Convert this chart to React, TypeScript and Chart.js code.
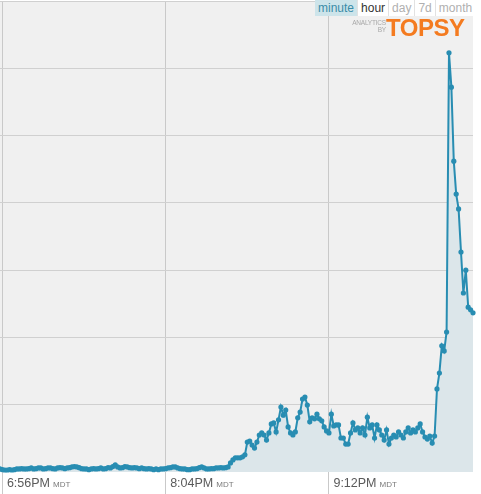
import React, { useEffect, useRef } from "react";
import { Chart, registerables } from "chart.js";

Chart.register(...registerables);

// minutes after 6:55PM MDT, one value per minute (tweets per minute)
const tickMinutes = [1, 69, 137];
const tickLabels = ["6:56PM", "8:04PM", "9:12PM"];
const timeZone = "MDT";

const baselineValues = [
  0.9, 0.7, 0.6, 0.6, 0.7, 0.6, 0.7, 0.9, 0.9, 1.0, 0.9,
  0.9, 1.0, 1.2, 0.9, 1.0, 1.2, 1.2, 0.9, 1.0, 1.2,
  1.2, 1.0, 0.9, 1.2, 1.3, 1.2, 1.0, 1.2, 1.3, 1.5,
  1.6, 1.5, 1.3, 1.0, 0.9, 0.9, 0.7, 0.9, 1.0, 0.9,
  1.0, 1.2, 0.9, 1.0, 1.3, 1.2, 1.6, 2.1, 1.5, 1.2,
  1.3, 1.6, 1.5, 1.3, 1.2, 1.3, 1.2, 1.0, 1.2, 1.0,
  0.9, 1.0, 0.9, 0.7, 0.9, 0.7, 0.9, 0.9, 1.0, 1.2,
  1.3, 1.5, 1.5, 1.2, 1.0, 0.9, 0.9, 0.7, 0.7, 0.9,
  0.9, 1.0, 1.3, 1.5, 1.2, 0.9, 0.9, 1.0, 1.0, 1.2,
  1.2, 1.3, 1.2, 1.3, 1.5,
];

const buildupValues = [
  2.7, 3.6, 4.2, 4.2, 4.2, 4.5, 5.1, 8.9, 9.2, 8.0,
  7.1, 8.9, 11.0, 11.6, 11.0, 9.5, 11.6, 14.3, 14.6, 11.9,
  15.5, 19.3, 16.9, 18.4, 13.4, 11.6, 11.0, 11.9, 16.1, 17.8,
  21.7, 22.3, 19.9, 14.9, 16.1, 15.8, 17.2, 15.8, 15.2, 13.4,
  12.2, 11.6, 17.2, 13.7, 14.0, 14.0, 10.1, 10.1, 8.3, 8.3,
  11.6, 14.6, 12.5, 13.1, 11.6, 13.1, 11.0, 16.3, 13.1, 14.0,
  10.1, 14.0, 12.5, 11.0, 9.5, 12.5, 8.3, 10.1, 11.0, 10.4,
  11.9, 11.0, 10.1, 11.9, 13.1, 11.6, 12.5, 11.9, 13.1, 14.3,
  11.9, 10.4, 9.8, 10.7, 8.6, 10.7,
];

const spikeValues = [
  24.7, 29.4, 37.5, 36.0, 41.6, 124.6, 114.4, 92.4, 82.6, 78.2,
  65.4, 53.2, 60.0, 49.0, 48.2, 47.3,
];

const rangeButtons = ["minute", "hour", "day", "7d", "month"];
const activeButton = "minute";

const LINE = "rgb(40,141,178)";
const FONT = '"Helvetica Neue", Helvetica, Arial, "Liberation Sans", sans-serif';

export default function App() {
  const canvasRef = useRef<HTMLCanvasElement | null>(null);

  useEffect(() => {
    if (!canvasRef.current) return;
    const allValues = [...baselineValues, ...buildupValues, ...spikeValues];
    const points = allValues.map((v, i) => ({ x: i, y: v }));

    const bgPlugin = {
      id: "plotBg",
      beforeDraw(chart: any) {
        const { ctx, chartArea } = chart;
        ctx.save();
        ctx.fillStyle = "#f0f0f0";
        ctx.fillRect(chartArea.left, chartArea.top, chartArea.right - chartArea.left, chartArea.bottom - chartArea.top);
        ctx.restore();
      },
    };

    const labelPlugin = {
      id: "timeLabels",
      afterDraw(chart: any) {
        const { ctx, scales, chartArea } = chart;
        const xs = scales.x;
        ctx.save();
        ctx.textBaseline = "alphabetic";
        tickMinutes.forEach((m, i) => {
          const px = xs.getPixelForValue(m) + 4.5;
          const y = chartArea.bottom + 15;
          ctx.font = `12.5px ${FONT}`;
          ctx.fillStyle = "#5a5a5a";
          ctx.fillText(tickLabels[i], px, y);
          const w = ctx.measureText(tickLabels[i]).width;
          ctx.font = `8px ${FONT}`;
          ctx.fillStyle = "#7a7a7a";
          ctx.fillText(timeZone, px + w + 3, y);
        });
        ctx.restore();
      },
    };

    const chart = new Chart(canvasRef.current, {
      type: "line",
      data: {
        datasets: [
          {
            data: points,
            borderColor: LINE,
            borderWidth: 2,
            backgroundColor: "#dce6ea",
            fill: "origin",
            pointRadius: 2.6,
            pointBorderWidth: 0,
            pointBackgroundColor: LINE,
            tension: 0,
            clip: 5,
          },
        ],
      },
      options: {
        animation: false,
        responsive: false,
        events: [],
        layout: { autoPadding: false, padding: { top: 1, right: 8, left: 0, bottom: 0 } },
        plugins: { legend: { display: false }, tooltip: { enabled: false } },
        scales: {
          x: {
            type: "linear",
            min: 0,
            max: 197,
            afterBuildTicks: (scale: any) => {
              scale.ticks = tickMinutes.map((v) => ({ value: v }));
            },
            afterFit: (scale: any) => {
              scale.height = 22;
            },
            ticks: { display: false },
            grid: { color: "#c9c9c9", drawTicks: true, tickLength: 22, lineWidth: 1 },
            border: { display: false },
          },
          y: {
            min: 0,
            max: 140,
            afterFit: (scale: any) => {
              scale.width = 0;
            },
            ticks: { display: false, stepSize: 20 },
            grid: {
              drawTicks: false,
              color: (c: any) => (c.tick && c.tick.value === 0 ? "rgba(0,0,0,0)" : "#d0d0d0"),
            },
            border: { display: false },
          },
        },
      },
      plugins: [bgPlugin, labelPlugin],
    });
    return () => chart.destroy();
  }, []);

  return (
    <div style={{ position: "fixed", left: 0, top: 0, width: 481, height: 494, background: "#fff", overflow: "hidden" }}>
      <canvas ref={canvasRef} width={481} height={494} style={{ position: "absolute", left: 0, top: 0 }} />
      <div
        style={{
          position: "absolute",
          left: 315,
          top: 0,
          height: 16,
          display: "flex",
          fontFamily: FONT,
          fontSize: 12,
          lineHeight: "16px",
          background: "#fff",
        }}
      >
        {rangeButtons.map((b, i) => (
          <div
            key={b}
            style={{
              padding: "0 3px",
              borderLeft: i === 0 ? "none" : "1px solid #e2e2e2",
              background: b === activeButton ? "#cde4ea" : "#fff",
              color: b === activeButton ? "#3a8ca8" : b === "hour" ? "#333" : "#b0b0b0",
            }}
          >
            {b}
          </div>
        ))}
      </div>
      <div style={{ position: "absolute", left: 352, top: 20, width: 34, fontFamily: FONT, color: "#a8a8a8", fontSize: 6.5, lineHeight: "6.5px", textAlign: "right", letterSpacing: -0.2 }}>
        <div>ANALYTICS</div>
        <div>BY</div>
      </div>
      <div style={{ position: "absolute", left: 386, top: 14, fontFamily: FONT, color: "#f47b20", fontSize: 24, fontWeight: 700, letterSpacing: -0.5, lineHeight: "28px" }}>
        TOPSY
      </div>
    </div>
  );
}
